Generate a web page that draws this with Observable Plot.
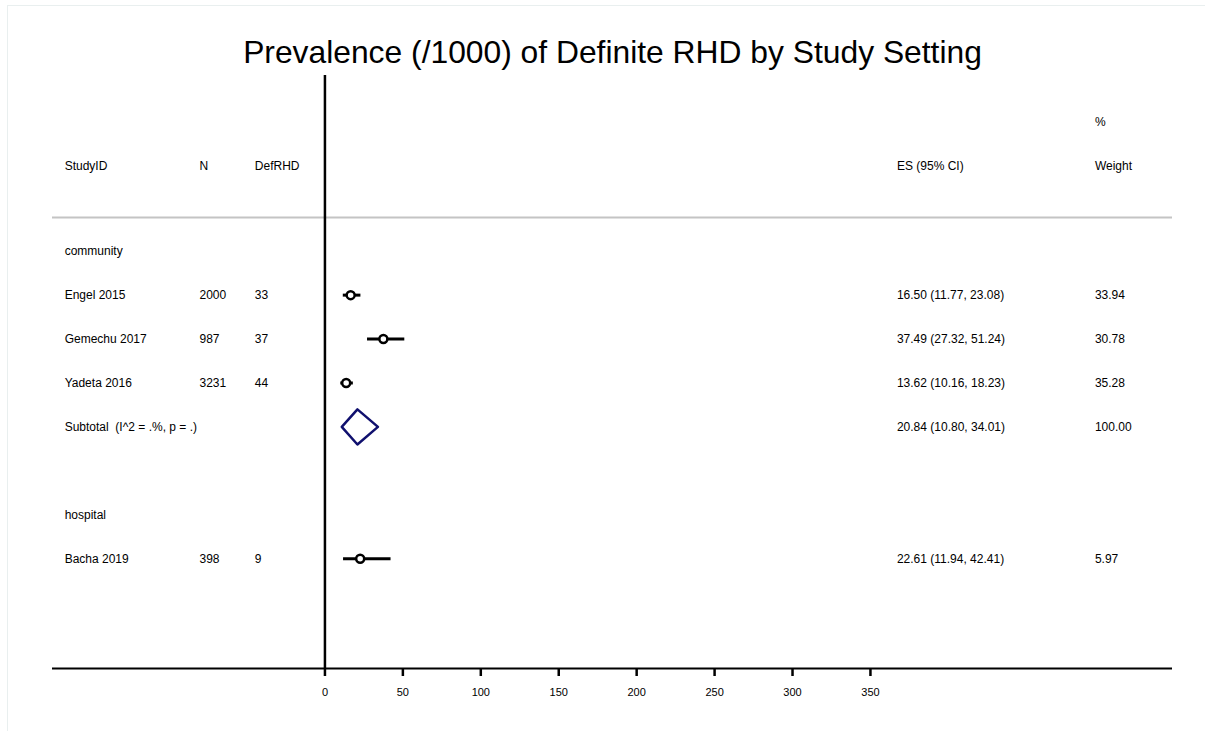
<!DOCTYPE html>
<html>
<head>
<meta charset="utf-8">
<script src="https://cdn.jsdelivr.net/npm/d3@7"></script>
<script src="https://cdn.jsdelivr.net/npm/@observablehq/plot@0.6"></script>
<style>
  html, body { margin: 0; padding: 0; background: #fff; }
  #wrap { position: relative; width: 1205px; height: 731px; overflow: hidden; }
  #edge { position: absolute; left: 7px; top: 5px; width: 1205px; height: 740px;
          border-top: 1.5px solid #e9efef; border-left: 1.5px solid #e9efef; pointer-events: none; }
  svg { font-family: "Liberation Sans", Arial, Helvetica, sans-serif; }
</style>
</head>
<body>
<div id="wrap"><div id="edge"></div></div>
<script>
// ---- data ----
const studies   = ["Engel 2015", "Gemechu 2017", "Yadeta 2016", "Bacha 2019"];
const groups    = ["community", "community", "community", "hospital"];
const sampleN   = [2000, 987, 3231, 398];
const defRHD    = [33, 37, 44, 9];
const estimate  = [16.50, 37.49, 13.62, 22.61];
const lower     = [11.77, 27.32, 10.16, 11.94];
const upper     = [23.08, 51.24, 18.23, 42.41];
const weights   = ["33.94", "30.78", "35.28", "5.97"];
const studyRows = [1, 2, 3, 7];

const groupLabels = ["community", "hospital"];
const groupRows   = [0, 6];

const subtotalLabel = "Subtotal  (I^2 = .%, p = .)";
const subtotalEst = 20.84, subtotalLo = 10.80, subtotalHi = 34.01;
const subtotalWeight = "100.00";
const subtotalRow = 4;

const xTicks = [0, 50, 100, 150, 200, 250, 300, 350];
const title = "Prevalence (/1000) of Definite RHD by Study Setting";

// ---- build tables ----
const fmt = d3.format(".2f");
const rows = studies.map((s, i) => ({
  study: s, group: groups[i], n: sampleN[i], cases: defRHD[i],
  est: estimate[i], lo: lower[i], hi: upper[i], w: weights[i], row: studyRows[i],
  es: `${fmt(estimate[i])} (${fmt(lower[i])}, ${fmt(upper[i])})`
}));
const diamond = [
  {x: subtotalLo, y: subtotalRow},
  {x: subtotalEst, y: subtotalRow - 0.4},
  {x: subtotalHi, y: subtotalRow},
  {x: subtotalEst, y: subtotalRow + 0.4},
  {x: subtotalLo, y: subtotalRow}
];
const subES = `${fmt(subtotalEst)} (${fmt(subtotalLo)}, ${fmt(subtotalHi)})`;

// column anchors (in x-scale units)
const colStudy = -167, colN = -80.5, colDef = -45, colES = 367, colW = 494;
const headRow = -1.93, pctRow = -2.93;

const fs = 12;
const chart = Plot.plot({
  width: 1205,
  height: 731,
  marginLeft: 52,
  marginRight: 33,
  marginTop: 75,
  marginBottom: 63,
  style: {fontFamily: '"Liberation Sans", Arial, Helvetica, sans-serif', background: "transparent", color: "#000"},
  x: {domain: [-174.8, 543.8], axis: null},
  y: {domain: [-4, 9.5], reverse: true, axis: null},
  marks: [
    // title
    Plot.text([title], {frameAnchor: "top", dy: -23, fontSize: 31.8, fill: "#000", lineAnchor: "middle"}),
    // headers
    Plot.text(["StudyID"], {x: colStudy, y: headRow, textAnchor: "start", fontSize: fs}),
    Plot.text(["N"], {x: colN, y: headRow, textAnchor: "start", fontSize: fs}),
    Plot.text(["DefRHD"], {x: colDef, y: headRow, textAnchor: "start", fontSize: fs}),
    Plot.text(["ES (95% CI)"], {x: colES, y: headRow, textAnchor: "start", fontSize: fs}),
    Plot.text(["%"], {x: colW, y: pctRow, textAnchor: "start", fontSize: fs}),
    Plot.text(["Weight"], {x: colW, y: headRow, textAnchor: "start", fontSize: fs}),
    // header separator
    Plot.ruleY([-0.77], {stroke: "#c4c4c4", strokeWidth: 2}),
    // null line at 0
    Plot.ruleX([0], {stroke: "#000", strokeWidth: 2.5}),
    // bottom axis line
    Plot.ruleY([9.5], {stroke: "#000", strokeWidth: 2}),
    Plot.axisX({ticks: xTicks, tickSize: 8, tickPadding: 12, fontSize: fs - 1, tickFormat: d3.format("d"), strokeWidth: 2.5, color: "#000", fill: "#000"}),
    // group labels
    Plot.text(groupLabels, {x: colStudy, y: (d, i) => groupRows[i], textAnchor: "start", fontSize: fs}),
    // study text columns
    Plot.text(rows, {x: colStudy, y: "row", text: "study", textAnchor: "start", fontSize: fs}),
    Plot.text(rows, {x: colN, y: "row", text: d => String(d.n), textAnchor: "start", fontSize: fs}),
    Plot.text(rows, {x: colDef, y: "row", text: d => String(d.cases), textAnchor: "start", fontSize: fs}),
    Plot.text(rows, {x: colES, y: "row", text: "es", textAnchor: "start", fontSize: fs}),
    Plot.text(rows, {x: colW, y: "row", text: "w", textAnchor: "start", fontSize: fs}),
    // CI lines
    Plot.ruleY(rows, {y: "row", x1: "lo", x2: "hi", stroke: "#000", strokeWidth: 3}),
    // point estimates
    Plot.dot(rows, {x: "est", y: "row", r: 4, fill: "#fff", stroke: "#000", strokeWidth: 2.5}),
    // subtotal
    Plot.text([subtotalLabel], {x: colStudy, y: subtotalRow, textAnchor: "start", fontSize: fs}),
    Plot.line(diamond, {x: "x", y: "y", stroke: "#10106e", strokeWidth: 2.5, curve: "linear"}),
    Plot.text([subES], {x: colES, y: subtotalRow, textAnchor: "start", fontSize: fs}),
    Plot.text([subtotalWeight], {x: colW, y: subtotalRow, textAnchor: "start", fontSize: fs})
  ]
});
chart.style.position = "absolute";
chart.style.left = "0px";
chart.style.top = "0px";
document.getElementById("wrap").appendChild(chart);
</script>
</body>
</html>
